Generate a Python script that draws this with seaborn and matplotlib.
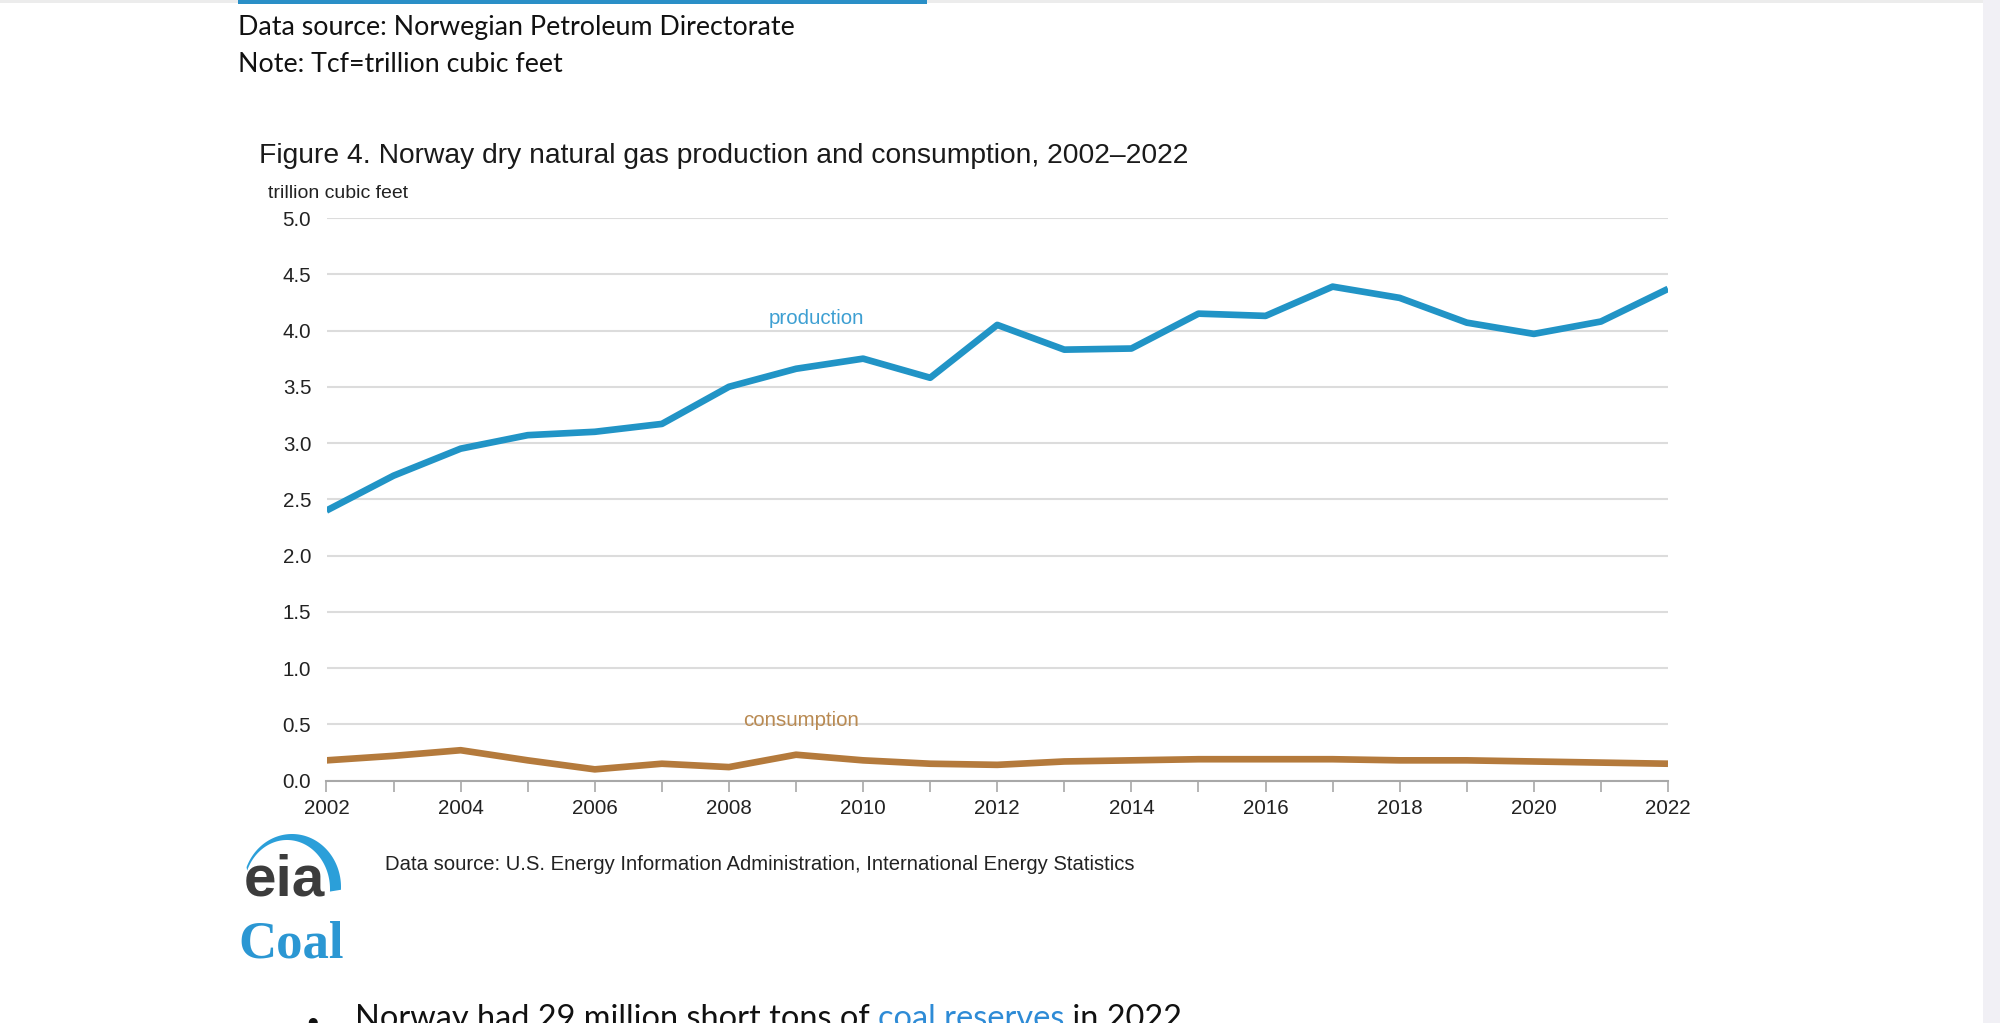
import pandas as pd
import numpy as np
import matplotlib.pyplot as plt
import seaborn as sns
from matplotlib.patches import Rectangle, Polygon

# values (trillion cubic feet)
years = list(range(2002, 2023))
production = [2.40, 2.71, 2.95, 3.07, 3.10, 3.17, 3.50, 3.66, 3.75, 3.58, 4.05,
              3.83, 3.84, 4.15, 4.13, 4.39, 4.29, 4.07, 3.97, 4.08, 4.37]
consumption = [0.18, 0.22, 0.27, 0.18, 0.10, 0.15, 0.12, 0.23, 0.18, 0.15, 0.14,
               0.17, 0.18, 0.19, 0.19, 0.19, 0.18, 0.18, 0.17, 0.16, 0.15]
series_names = ['production', 'consumption']
y_ticks = [0.0, 0.5, 1.0, 1.5, 2.0, 2.5, 3.0, 3.5, 4.0, 4.5, 5.0]
x_ticks = list(range(2002, 2023, 2))

df = pd.DataFrame({'year': years * 2,
                   'value': production + consumption,
                   'series': [series_names[0]] * len(years) + [series_names[1]] * len(years)})

line_colors = {'production': '#2194c6', 'consumption': '#b47a3c'}
label_colors = {'production': '#3d9fd2', 'consumption': '#b98a52'}

sns.set_style('white')
plt.rcParams['font.family'] = ['Liberation Sans', 'DejaVu Sans']

W, H = 2000, 1023
fig = plt.figure(figsize=(W / 100, H / 100), dpi=100)
fig.patch.set_facecolor('white')

def fx(px):
    return px / W

def fy(py):
    return 1 - py / H

# page decoration
fig.add_artist(Rectangle((0, fy(3)), 1, 3 / H, transform=fig.transFigure, color='#ececec', lw=0))
fig.add_artist(Rectangle((fx(238), fy(4)), fx(927 - 238), 4 / H, transform=fig.transFigure, color='#2a8fc7', lw=0))
fig.add_artist(Rectangle((fx(1983), 0), 1 - fx(1983), 1, transform=fig.transFigure, color='#f1f0f5', lw=0))

calibri_like = ['Lato', 'DejaVu Sans']
fig.text(fx(238), fy(27), 'Data source: Norwegian Petroleum Directorate', family=calibri_like,
         fontsize=19.3, va='center', color='#111')
fig.text(fx(238), fy(64), 'Note: Tcf=trillion cubic feet', family=calibri_like,
         fontsize=19.3, va='center', color='#111')

# chart
ax = fig.add_axes([fx(326.5), fy(780.6), fx(1668 - 326.5), (780.6 - 218) / H])
sns.lineplot(data=df, x='year', y='value', hue='series', palette=line_colors,
             linewidth=4.8, legend=False, ax=ax)
ax.set_xlim(2002, 2022)
ax.set_ylim(0, 5)
ax.set_yticks(y_ticks)
ax.set_yticklabels([f'{v:.1f}' for v in y_ticks])
ax.set_xticks(x_ticks)
ax.set_xticks(years, minor=True)
ax.grid(axis='y', color='#dcdcdc', lw=1.5)
ax.set_axisbelow(True)
for s in ['left', 'right', 'top']:
    ax.spines[s].set_visible(False)
ax.spines['bottom'].set_color('#a8a8a8')
ax.spines['bottom'].set_linewidth(1.5)
ax.tick_params(axis='x', which='both', direction='out', length=8, width=1.2, color='#a8a8a8',
               labelsize=14.8, pad=5, labelcolor='#222', bottom=True)
ax.tick_params(axis='y', length=0, pad=11, labelsize=14.8, labelcolor='#222')
ax.set_xlabel('')
ax.set_ylabel('')
for ln in ax.lines:
    ln.set_solid_capstyle('butt')

ax.text(2009.3, 4.11, 'production', color=label_colors['production'], fontsize=14.8,
        ha='center', va='center')
ax.text(2009.07, 0.53, 'consumption', color=label_colors['consumption'], fontsize=14.8,
        ha='center', va='center')

fig.text(fx(259), fy(156), 'Figure 4. Norway dry natural gas production and consumption, 2002\u20132022',
         fontsize=20.3, va='center', color='#1a1a1a')
fig.text(fx(268), fy(193), 'trillion cubic feet', fontsize=14, va='center', color='#222')

# eia logo
fig.text(fx(244), fy(895), 'eia', fontsize=42, fontweight='bold', color='#3c3c3c', va='baseline')
t = np.linspace(np.radians(-3), np.radians(158), 90)
outer = np.column_stack([292 + 49 * np.cos(t), 887 - 53 * np.sin(t)])
t2 = t[::-1]
inner = np.column_stack([287 + 43 * np.cos(t2), 889 - 49 * np.sin(t2)])
pts = np.vstack([outer, inner])
fig.add_artist(Polygon(np.column_stack([fx(pts[:, 0]), fy(pts[:, 1])]), closed=True,
                       transform=fig.transFigure, color='#2b9fd9', lw=0))

fig.text(fx(385), fy(864), 'Data source: U.S. Energy Information Administration, International Energy Statistics',
         fontsize=14.6, va='center', color='#222')

fig.text(fx(238), fy(944), 'Coal', family=['Liberation Serif', 'DejaVu Serif'], fontweight='bold',
         fontsize=38, va='center', color='#2b97d3')

# last (cut-off) bullet line, cut by the page edge as in the source
base = fy(1028)
fig.text(fx(306), base, '\u25cf', fontsize=15, va='baseline', color='#111')
renderer = fig.canvas.get_renderer()
pieces = ['Norway had 29 million short tons of ', 'coal reserves', ' in 2022']
piece_colors = ['#111', '#2e8bd6', '#111']
x0 = fx(355)
for s, c in zip(pieces, piece_colors):
    txt = fig.text(x0, base, s, family=calibri_like, fontsize=23.4, va='baseline', color=c)
    bb = txt.get_window_extent(renderer)
    x0 = bb.x1 / fig.bbox.width

fig.savefig('out.png', dpi=100)
